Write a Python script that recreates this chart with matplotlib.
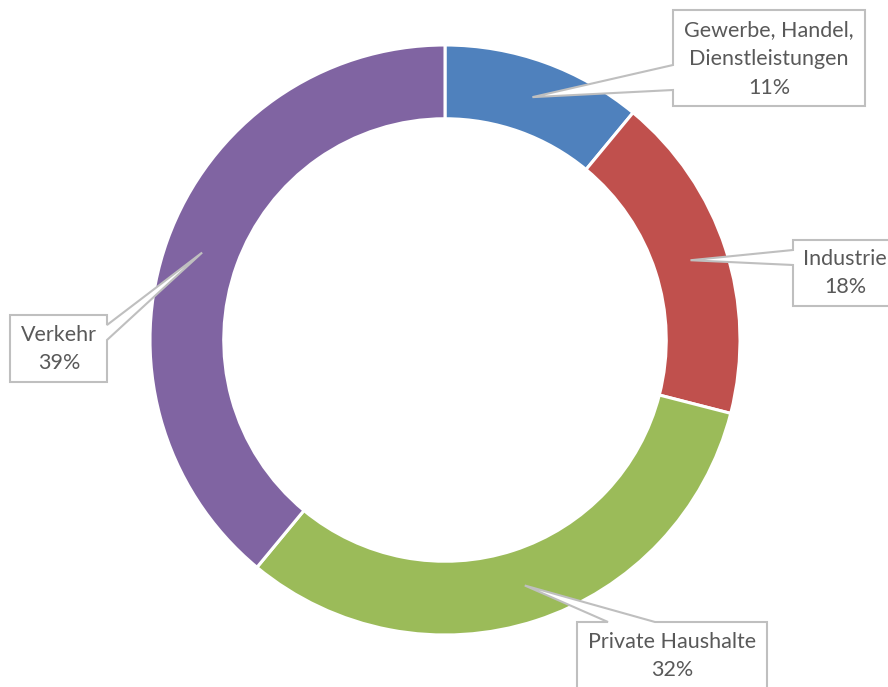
import numpy as np
import matplotlib
matplotlib.use("Agg")
import matplotlib.pyplot as plt
from matplotlib.patches import Polygon

# data
sectors = ["Gewerbe, Handel,\nDienstleistungen", "Industrie", "Private Haushalte", "Verkehr"]
shares = [11, 18, 32, 39]
colors = ["#4F81BD", "#C0504D", "#9BBB59", "#8064A2"]

# layout (pixels from top-left of the 888x687 canvas)
W, H = 888, 687
CX, CY, R_PX = 445, 340, 295
# box: (left, top, right, bottom); wedge side and base span along that side
boxes = [(673, 10, 865, 106), (793, 240, 900, 306), (577, 622, 767, 700), (10, 315, 107, 382)]
sides = ["left", "left", "top", "right"]
bases = [(65, 90), (250, 265), (608, 655), (325, 340)]
text_pos = [(769, 59), (845, 273), (672, 656), (59, 349)]

def to_data(px, py):
    return (px - CX) / R_PX, (CY - py) / R_PX

fig = plt.figure(figsize=(W / 100, H / 100), dpi=100)
ax = fig.add_axes([0, 0, 1, 1])
ax.pie(shares, colors=colors, startangle=90, counterclock=False, radius=1,
       wedgeprops=dict(width=0.25, edgecolor="white", linewidth=2.2))
ax.set_xlim(-CX / R_PX, (W - CX) / R_PX)
ax.set_ylim(-(H - CY) / R_PX, CY / R_PX)
ax.set_aspect("equal")
ax.axis("off")

# callout labels
cum = np.cumsum([0] + shares[:-1])
for name, val, c0, box, side, base, tp in zip(sectors, shares, cum, boxes, sides, bases, text_pos):
    ang = np.deg2rad(90 - (c0 + val / 2) / 100 * 360)
    tip = (0.875 * np.cos(ang), 0.875 * np.sin(ang))
    l, t, r, b = box
    if side == "left":
        pts = [(l, t), (r, t), (r, b), (l, b), (l, base[1])]
        pts = [to_data(*p) for p in pts] + [tip, to_data(l, base[0])]
    elif side == "right":
        pts = [(r, t), (r, base[0])]
        pts = [to_data(*p) for p in pts] + [tip] + \
              [to_data(*p) for p in [(r, base[1]), (r, b), (l, b), (l, t)]]
    else:  # top
        pts = [(l, t), (base[0], t)]
        pts = [to_data(*p) for p in pts] + [tip] + \
              [to_data(*p) for p in [(base[1], t), (r, t), (r, b), (l, b)]]
    ax.add_patch(Polygon(pts, closed=True, facecolor="white", edgecolor="#BFBFBF",
                         linewidth=1.5, zorder=5))
    tx, ty = to_data(*tp)
    ax.text(tx, ty, f"{name}\n{val}%", ha="center", va="center", fontsize=15.5,
            color="#595959", family="Lato", linespacing=1.55, zorder=6)

fig.savefig("out.png", dpi=100)
